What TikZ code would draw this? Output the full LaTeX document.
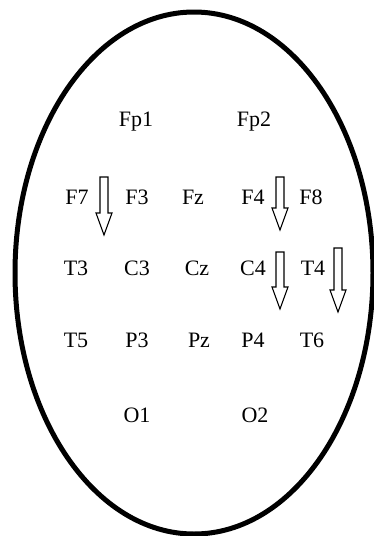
\documentclass[tikz,border=0pt]{standalone}
\usepackage{fontspec}
\setmainfont{Liberation Serif}
\usepackage{tikz}
\usetikzlibrary{positioning}

% hollow block arrow pointing down: x, top y, tip y (pixel units, y downwards)
\newcommand{\eegarrow}[3]{%
  \draw[arrowline] ({#1-4},-#2) -- ({#1+4},-#2) -- ({#1+4},{-(#3-22)})
    -- ({#1+8},{-(#3-22)}) -- (#1,-#3) -- ({#1-8},{-(#3-22)})
    -- ({#1-4},{-(#3-22)}) -- cycle;}

\begin{document}
\begin{tikzpicture}[
    x=1pt, y=1pt,
    electrode/.style={inner sep=1pt, font=\fontsize{22}{26}\selectfont},
    head/.style={draw, line width=5pt},
    arrowline/.style={draw, line width=1.1pt, line join=miter, fill=white}
]
    \useasboundingbox (0,0) rectangle (374,-536);
    \fill[white] (0,0) rectangle (374,-536);

    % head outline
    \draw[head] (194,-273) ellipse [x radius=179, y radius=261];

    % electrodes
    \node[electrode] (fp1) at (136,-122) {Fp1};
    \node[electrode] (fp2) at (254,-122) {Fp2};

    \node[electrode] (f7) at (77,-197) {F7};
    \node[electrode] (f3) at (137,-197) {F3};
    \node[electrode] (fz) at (193,-197) {Fz};
    \node[electrode] (f4) at (253,-197) {F4};
    \node[electrode] (f8) at (311,-197) {F8};

    \node[electrode] (t3) at (76,-268) {T3};
    \node[electrode] (c3) at (137,-268) {C3};
    \node[electrode] (cz) at (197,-268) {Cz};
    \node[electrode] (c4) at (253,-268) {C4};
    \node[electrode] (t4) at (313,-268) {T4};

    \node[electrode] (t5) at (76,-340) {T5};
    \node[electrode] (p3) at (137,-340) {P3};
    \node[electrode] (pz) at (199,-340) {Pz};
    \node[electrode] (p4) at (253,-340) {P4};
    \node[electrode] (t6) at (312,-340) {T6};

    \node[electrode] (o1) at (137,-415) {O1};
    \node[electrode] (o2) at (255,-415) {O2};

    % arrows
    \eegarrow{104}{177}{235}
    \eegarrow{280}{177}{230}
    \eegarrow{280}{252}{309}
    \eegarrow{338}{248}{312}
\end{tikzpicture}
\end{document}
